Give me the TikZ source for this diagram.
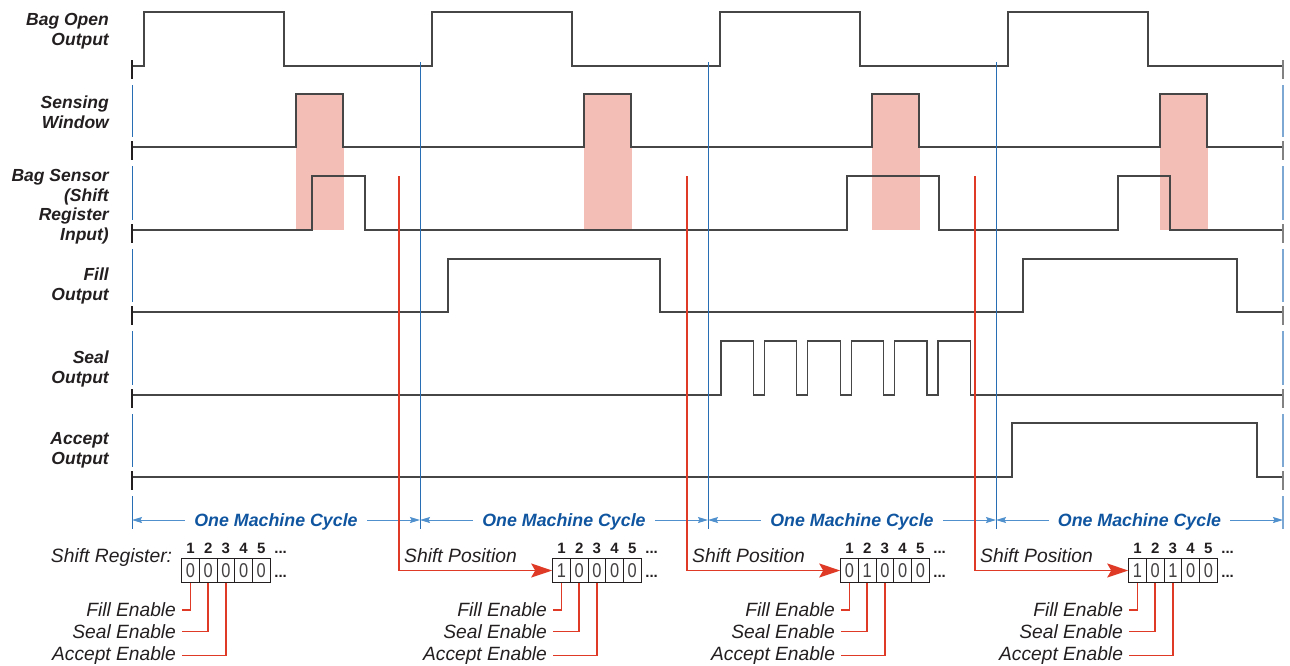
\documentclass[tikz,border=0pt]{standalone}
\usepackage{fontspec}
\setmainfont{Liberation Sans}
\newfontfamily\digitfont[FakeStretch=0.82]{Liberation Sans}
\usetikzlibrary{arrows.meta}
\definecolor{ink}{RGB}{35,31,32}
\definecolor{wavec}{RGB}{70,70,70}
\definecolor{cycblue}{RGB}{40,110,180}
\definecolor{cycblueL}{RGB}{125,168,212}
\definecolor{arrblue}{RGB}{80,145,205}
\definecolor{txtblue}{RGB}{15,85,160}
\definecolor{regred}{RGB}{222,58,38}
\definecolor{pinkw}{RGB}{243,190,182}
\definecolor{tickR}{RGB}{130,130,130}

\newcommand{\regbox}[7]{%
  \foreach \d [count=\c] in {#3,#4,#5,#6,#7} {
    \node[cell] (#1c\c) at ({#2+(\c-0.5)*17.7},570.5) {\d};
    \node[colnum] (#1n\c) at ({#2+(\c-0.5)*17.7},553.3) {\c};
  }
  \node[dots] (#1dt) at ({#2+92.5},553.3) {...};
  \node[dots] (#1db) at ({#2+92.5},577) {...};
  \node[enlabel] (#1f) at (#2,616.7) {Fill Enable};
  \node[enlabel] (#1s) at (#2,638.3) {Seal Enable};
  \node[enlabel] (#1a) at (#2,660.5) {Accept Enable};
  \draw[conn] (#1c1.south) |- (#1f.east);
  \draw[conn] (#1c2.south) |- (#1s.east);
  \draw[conn] (#1c3.south) |- (#1a.east);
}

\begin{document}
\begin{tikzpicture}[x=1pt,y=-1pt,
  wave/.style={draw=wavec,line width=1.2pt},
  siglabel/.style={anchor=base east, align=right, inner sep=0,
    font=\bfseries\itshape\fontsize{17.5}{19.5}\selectfont, text=ink},
  cell/.style={draw=ink, line width=0.9pt, minimum width=17.7pt, minimum height=23.7pt,
    inner sep=0, font=\digitfont\fontsize{20}{20}\selectfont, text=ink!85},
  colnum/.style={anchor=base, inner sep=0, font=\bfseries\fontsize{15}{15}\selectfont, text=ink},
  dots/.style={anchor=base west, inner sep=0, font=\bfseries\fontsize{15}{15}\selectfont, text=ink},
  enlabel/.style={anchor=base east, inner xsep=5.5pt, inner ysep=0,
    font=\itshape\fontsize{19.2}{19.2}\selectfont, text=ink},
  plainlabel/.style={anchor=base west, inner sep=0,
    font=\itshape\fontsize{19.3}{19.3}\selectfont, text=ink},
  conn/.style={draw=regred, line width=1.5pt},
  shiftarrow/.style={draw=regred, line width=1.4pt, -{Stealth[length=21pt,width=14pt,inset=4pt]}},
  cycline/.style={draw=cycblue, line width=1pt},
  cycarrow/.style={draw=arrblue, line width=1pt, {Stealth[length=10pt,width=6pt,inset=1.5pt]}-{Stealth[length=10pt,width=6pt,inset=1.5pt]}},
  cyctext/.style={anchor=base, fill=white, inner xsep=9pt, inner ysep=2pt,
    font=\bfseries\itshape\fontsize{17.8}{17.8}\selectfont, text=txtblue},
  edgetick/.style={draw=ink, line width=1.1pt},
  edgeblue/.style={draw=cycblue, line width=1pt},
  edgetickR/.style={draw=tickR, line width=1.4pt},
  edgeblueR/.style={draw=cycblueL, line width=1.4pt},
  pinkbox/.style={fill=pinkw, draw=none}
]
\useasboundingbox (0,0) rectangle (1290,665);

% signal labels (anchored at the baseline of their last line)
\node[siglabel] (lBagOpen) at (109,45) {Bag Open\\Output};
\node[siglabel] (lSense) at (109,128) {Sensing\\Window};
\node[siglabel] (lSensor) at (109,240) {Bag Sensor\\(Shift\\Register\\Input)};
\node[siglabel] (lFill) at (109,300) {Fill\\Output};
\node[siglabel] (lSeal) at (109,383) {Seal\\Output};
\node[siglabel] (lAccept) at (109,464) {Accept\\Output};

% sensing window shading
\foreach \k in {0,...,3}
  \fill[pinkbox] ({296+288*\k},94) rectangle ({344+288*\k},230);

% waveforms
\draw[wave] (132,66) foreach \k in {0,...,3} {
  -- ({144+288*\k},66) -- ({144+288*\k},12) -- ({284+288*\k},12) -- ({284+288*\k},66) } -- (1283,66);
\draw[wave] (132,147) foreach \k in {0,...,3} {
  -- ({296+288*\k},147) -- ({296+288*\k},94) -- ({343+288*\k},94) -- ({343+288*\k},147) } -- (1283,147);
\draw[wave] (132,230) -- (312,230) -- (312,176) -- (365,176) -- (365,230)
  -- (847,230) -- (847,176) -- (939,176) -- (939,230)
  -- (1118,230) -- (1118,176) -- (1170,176) -- (1170,230) -- (1283,230);
\draw[wave] (132,312) -- (448,312) -- (448,259) -- (660,259) -- (660,312)
  -- (1023,312) -- (1023,259) -- (1237,259) -- (1237,312) -- (1283,312);
\draw[wave] (132,395) foreach \k in {0,...,5} {
  -- ({721+43.4*\k},395) -- ({721+43.4*\k},341) -- ({753.3+43.4*\k},341) -- ({753.3+43.4*\k},395) } -- (1283,395);
\draw[wave] (132,477) -- (1012,477) -- (1012,423) -- (1257,423) -- (1257,477) -- (1283,477);

% edges of the time axis
\foreach \b/\e in {66/137,147/220,230/302,312/385,395/467,477/529} {
  \draw[edgetick] (132,\b-6) -- (132,\b+13);
  \draw[edgeblue] (132,\b+19) -- (132,\e);
  \draw[edgetickR] (1283,\b-6) -- (1283,\b+13);
  \draw[edgeblueR] (1283,\b+19) -- (1283,\e);
}

% cycle boundaries
\foreach \x in {420,708,996}
  \draw[cycline] (\x,62) -- (\x,529);

% cycle arrows
\coordinate (b0) at (132,520);
\coordinate (b1) at (420,520);
\coordinate (b2) at (708,520);
\coordinate (b3) at (996,520);
\coordinate (b4) at (1283,520);
\draw[cycarrow] (b0) -- (b1);
\draw[cycarrow] (b1) -- (b2);
\draw[cycarrow] (b2) -- (b3);
\draw[cycarrow] (b3) -- (b4);
\node[cyctext] (cyc1) at (276,526) {One Machine Cycle};
\node[cyctext] (cyc2) at (564,526) {One Machine Cycle};
\node[cyctext] (cyc3) at (852,526) {One Machine Cycle};
\node[cyctext] (cyc4) at (1139.5,526) {One Machine Cycle};

% shift registers
\node[plainlabel] (shreg) at (50.7,562.7) {Shift Register:};
\regbox{rA}{181.65}{0}{0}{0}{0}{0}
\node[plainlabel] (shpos1) at (404,562.7) {Shift Position};
\regbox{rB}{552.65}{1}{0}{0}{0}{0}
\node[plainlabel] (shpos2) at (692,562.7) {Shift Position};
\regbox{rC}{840.65}{0}{1}{0}{0}{0}
\node[plainlabel] (shpos3) at (980,562.7) {Shift Position};
\regbox{rD}{1128.65}{1}{0}{1}{0}{0}

% shift arrows
\coordinate (rs1) at (399,176);
\coordinate (rs2) at (687,176);
\coordinate (rs3) at (975,176);
\draw[shiftarrow] (rs1) |- (rBc1.west);
\draw[shiftarrow] (rs2) |- (rCc1.west);
\draw[shiftarrow] (rs3) |- (rDc1.west);
\end{tikzpicture}
\end{document}
